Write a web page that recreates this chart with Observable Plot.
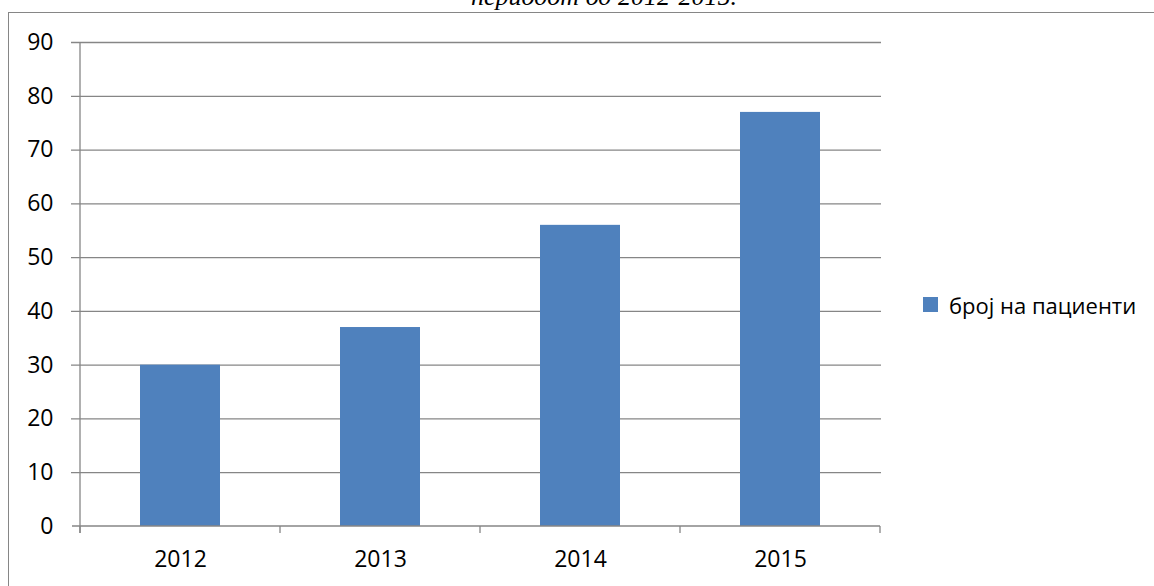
<!DOCTYPE html>
<html>
<head>
<meta charset="utf-8">
<script src="https://cdn.jsdelivr.net/npm/d3@7"></script>
<script src="https://cdn.jsdelivr.net/npm/@observablehq/plot@0.6"></script>
<style>
  html, body { margin: 0; padding: 0; }
  body { width: 1154px; height: 586px; overflow: hidden; background: #fff; position: relative; font-family: "Open Sans", sans-serif; }
  #frame { position: absolute; left: 8px; top: 12px; width: 1300px; height: 700px; border: 1.3px solid #868686; box-sizing: border-box; }
  #title { position: absolute; left: 471px; top: -16px; font-family: "Liberation Serif", serif; font-style: italic; font-size: 26px; line-height: 26px; color: #000; white-space: nowrap; }
  #chart { position: absolute; left: 0; top: 0; }
  #legend { position: absolute; left: 923px; top: 288px; width: 231px; white-space: nowrap; }
  #legend * { white-space: nowrap; }
</style>
</head>
<body>
<div id="frame"></div>
<div id="title">периодот од 2012-2015.</div>
<div id="chart"></div>
<div id="legend"></div>
<script>
const years = ["2012", "2013", "2014", "2015"];
const patients = [30, 37, 56, 77];
const yTicks = [0, 10, 20, 30, 40, 50, 60, 70, 80, 90];
const seriesName = "број на пациенти";

const barColor = "#4F81BD";
const gridColor = "#868686";
const data = years.map((year, i) => ({year, value: patients[i]}));

function axisLines(index, scales, values, dimensions) {
  const {x, y} = scales;
  const step = x(years[1]) - x(years[0]);
  const off = step * 0.3;
  const bounds = years.map(d => x(d) - off).concat([x(years[years.length - 1]) - off + step]);
  const y0 = y(yTicks[0]);
  const g = d3.create("svg:g").attr("stroke", gridColor).attr("stroke-width", 1.3).attr("fill", "none");
  g.append("line").attr("x1", bounds[0]).attr("x2", bounds[0]).attr("y1", y(yTicks[yTicks.length - 1])).attr("y2", y0 + 7);
  g.append("line").attr("x1", bounds[0] - 8).attr("x2", bounds[bounds.length - 1]).attr("y1", y0).attr("y2", y0);
  for (const b of bounds) {
    g.append("line").attr("x1", b).attr("x2", b).attr("y1", y0).attr("y2", y0 + 7);
  }
  return g.node();
}

const chart = Plot.plot({
  width: 1154,
  height: 586,
  marginLeft: 79,
  marginRight: 273,
  marginTop: 42,
  marginBottom: 60,
  style: {background: "transparent", fontFamily: "'Open Sans', sans-serif", color: "#000"},
  x: {domain: years, paddingInner: 0.6, paddingOuter: 0.3, label: null},
  y: {domain: [0, 90], label: null},
  marks: [
    Plot.ruleY(yTicks.slice(1), {y: d => d, stroke: gridColor, strokeWidth: 1.3, strokeOpacity: 1, insetLeft: -8}),
    Plot.barY(data, {x: "year", y: "value", fill: barColor}),
    axisLines,
    Plot.axisY(yTicks, {tickSize: 0, tickPadding: 26, fontSize: 23, label: null}),
    Plot.axisX({tickSize: 0, tickPadding: 24, fontSize: 23, label: null})
  ]
});
document.getElementById("chart").appendChild(chart);

const legend = Plot.legend({
  color: {type: "ordinal", domain: [seriesName], range: [barColor]},
  swatchSize: 15,
  style: {fontFamily: "'Open Sans', sans-serif", fontSize: "22px", color: "#000"}
});
document.getElementById("legend").appendChild(legend);
</script>
</body>
</html>
